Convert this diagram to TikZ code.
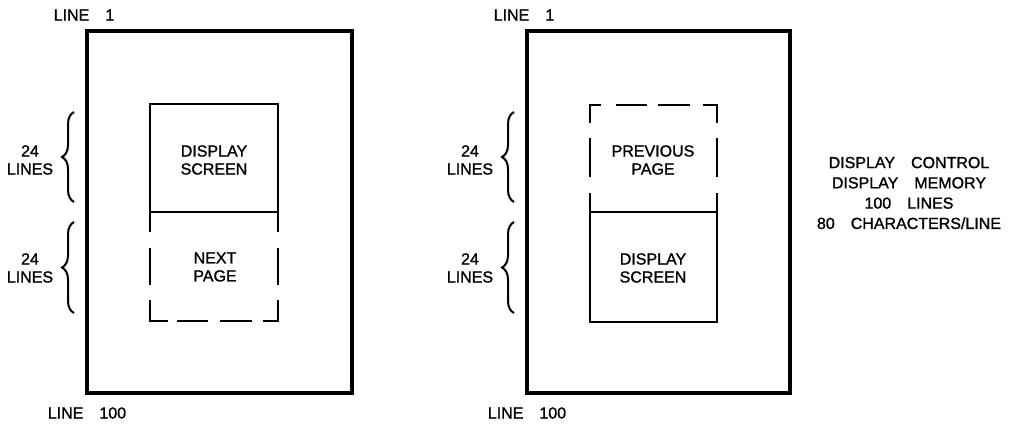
\documentclass[tikz,border=0pt]{standalone}
\usepackage{fontspec}
\setmainfont{Liberation Sans}[FakeBold=1.2]
\usetikzlibrary{decorations.pathreplacing}
\newcommand\wsp{\hspace{1em}}
\begin{document}
\begin{tikzpicture}[x=0.75pt,y=-0.75pt,
  outer/.style={line width=3pt},
  inner/.style={line width=1pt},
  bracestyle/.style={decorate, decoration={brace,amplitude=9pt}, line width=1.5pt},
  lbl/.style={font=\fontsize{12}{13.5}\selectfont, align=center, inner sep=0pt},
  side/.style={font=\fontsize{12}{15.2}\selectfont, align=center, inner sep=0pt}]
\useasboundingbox (0,0) rectangle (1015,424);

% ---------- left panel ----------
\draw[outer] (87,31) rectangle (352,393);
\draw[inner] (150,104) rectangle (278,212);
\draw[inner] (150,212)--(150,232);
\draw[inner] (150,248)--(150,285);
\draw[inner] (150,300)--(150,321)--(168,321);
\draw[inner] (177,321)--(208,321);
\draw[inner] (220,321)--(252,321);
\draw[inner] (263,321)--(278,321)--(278,300);
\draw[inner] (278,285)--(278,248);
\draw[inner] (278,232)--(278,212);
\draw[bracestyle] (74,202) -- (74,112);
\draw[bracestyle] (74,313) -- (74,222);
\node[lbl] (la) at (84,15) {LINE\wsp 1};
\node[lbl] (lb) at (87,413) {LINE\wsp 100};
\node[lbl] (lc) at (30,160) {24\\LINES};
\node[lbl] (ld) at (30,268) {24\\LINES};
\node[lbl] (le) at (214,160) {DISPLAY\\SCREEN};
\node[lbl] (lf) at (215,267) {NEXT\\PAGE};

% ---------- right panel ----------
\draw[outer] (527,31) rectangle (790,393);
\draw[inner] (590,212) rectangle (717,322);
\draw[inner] (590,212)--(590,193);
\draw[inner] (590,177)--(590,138);
\draw[inner] (590,123)--(590,105)--(601,105);
\draw[inner] (616,105)--(647,105);
\draw[inner] (658,105)--(690,105);
\draw[inner] (703,105)--(717,105)--(717,123);
\draw[inner] (717,138)--(717,177);
\draw[inner] (717,193)--(717,212);
\draw[bracestyle] (514,202) -- (514,112);
\draw[bracestyle] (514,313) -- (514,222);
\node[lbl] (ra) at (524,15) {LINE\wsp 1};
\node[lbl] (rb) at (527,413) {LINE\wsp 100};
\node[lbl] (rc) at (470,160) {24\\LINES};
\node[lbl] (rd) at (470,268) {24\\LINES};
\node[lbl] (re) at (653,160) {PREVIOUS\\PAGE};
\node[lbl] (rf) at (653,268) {DISPLAY\\SCREEN};

% ---------- side text ----------
\node[side] (ctrl) at (909,193) {DISPLAY\wsp CONTROL\\DISPLAY\wsp MEMORY\\100\wsp LINES\\80\wsp CHARACTERS/LINE};
\end{tikzpicture}
\end{document}
